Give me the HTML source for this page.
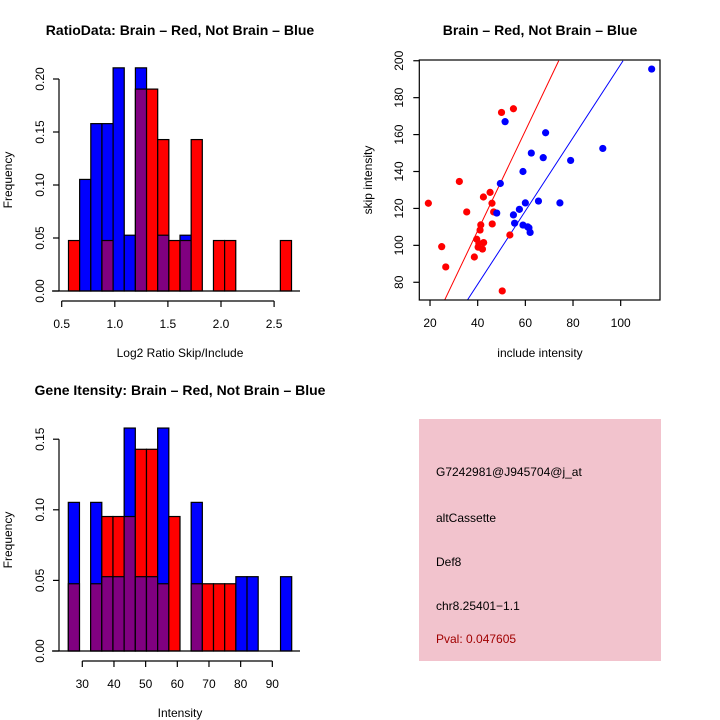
<!DOCTYPE html>
<html><head><meta charset="utf-8"><style>
body{margin:0;background:#fff;}
svg{display:block;font-family:"Liberation Sans",sans-serif;}
</style></head><body>
<svg id="c" width="720" height="720" xmlns="http://www.w3.org/2000/svg"></svg>
<script>
// ---- data ----
const ratioRedCounts = [1,0,0,1,0,0,4,4,3,1,1,3,0,1,1,0,0,0,0,1];
const ratioBlueCounts = [0,2,3,3,4,1,4,0,1,0,1,0,0,0,0,0,0,0,0,0];
const intRedCounts = [1,0,1,2,2,2,3,3,1,2,0,1,1,1,1,0,0,0,0,0];
const intBlueCounts = [2,0,2,1,1,3,1,1,3,0,0,2,0,0,0,1,1,0,0,1];
const redTotal = 21, blueTotal = 19;
const ratioXTicks = [0.5,1.0,1.5,2.0,2.5];
const ratioXLabels = ["0.5","1.0","1.5","2.0","2.5"];
const ratioYTicks = [0,0.05,0.10,0.15,0.20];
const ratioYLabels = ["0.00","0.05","0.10","0.15","0.20"];
const intXTicks = [30,40,50,60,70,80,90];
const intYTicks = [0,0.05,0.10,0.15];
const intYLabels = ["0.00","0.05","0.10","0.15"];
const redX = [32.3,19.3,35.4,42.4,45.2,46.0,46.7,46.1,41.3,41.0,39.6,40.5,42.5,40.2,42.0,38.6,24.9,26.6,53.5,50.3,50.0,55.0];
const redY = [134.6,122.8,118.1,126.2,128.7,122.8,118.1,111.6,111.1,108.3,103.3,101,101.5,99,98,93.7,99.3,88.3,105.6,75.3,172,174];
const blueX = [48,49.5,51.5,55,55.5,57.5,59,59,60,61,61.5,62,62.5,65.5,67.5,68.5,74.5,79,92.5,113];
const blueY = [117.5,133.5,167,116.5,112,119.5,140,111,123,110,109.5,107,150,124,147.5,161,123,146,152.5,195.5];
const redLine = [26,70,74,200];   // x0,y0,x1,y1 in data units
const blueLine = [35.5,70,101,200];
const scXTicks = [20,40,60,80,100];
const scYTicks = [80,100,120,140,160,180,200];

const svg = document.getElementById('c');
const NS = 'http://www.w3.org/2000/svg';
function el(tag, attrs, parent){const e=document.createElementNS(NS,tag);for(const k in attrs)e.setAttribute(k,attrs[k]);(parent||svg).appendChild(e);return e;}
function txt(s,x,y,attrs,parent){const t=el('text',Object.assign({x:x,y:y,'font-size':12,'text-anchor':'middle',fill:'#000'},attrs||{}),parent);t.textContent=s;return t;}

function histogram(name, top, y0px, perUnit, x0, binW, xScaleA, xScaleB, red, blue, xT, xL, yT, yL, xTitle, title, titleY){
  const g = el('g',{});
  
  
  const sx = v => xScaleA + (v - xScaleB) * perUnitX;
  const perUnitX = xScaleA.u; 
}

function drawHist(name, cfg){
  const g = el('g',{});
  
  
  const sx = v => cfg.px0 + (v - cfg.v0) * cfg.kx;
  const sy = v => cfg.py0 - v * cfg.ky;
  for(let i=0;i<cfg.red.length;i++){
    const a = sx(cfg.start + i*cfg.bw), b = sx(cfg.start + (i+1)*cfg.bw);
    const r = cfg.red[i]/redTotal, bl = cfg.blue[i]/blueTotal;
    const hi = Math.max(r,bl), lo = Math.min(r,bl);
    if(hi>0){
      const c = r>bl ? '#ff0000' : '#0000ff';
      const rect = el('rect',{x:a,y:sy(hi),width:b-a,height:sy(0)-sy(hi),fill:c,stroke:'#000','stroke-width':1.2},g);
      
      
    }
    if(lo>0){
      const rect = el('rect',{x:a,y:sy(lo),width:b-a,height:sy(0)-sy(lo),fill:'#800080',stroke:'#000','stroke-width':1.2},g);
      
      
    }
  }
  el('line',{x1:52,x2:300,y1:sy(0),y2:sy(0),stroke:'#000','stroke-width':1.2},g);
  // x axis
  const xa = el('g',{},g);
  
  
  const ay = cfg.axisY;
  el('line',{x1:sx(cfg.xT[0]),x2:sx(cfg.xT[cfg.xT.length-1]),y1:ay,y2:ay,stroke:'#000','stroke-width':1.2},xa);
  cfg.xT.forEach((v,i)=>{el('line',{x1:sx(v),x2:sx(v),y1:ay,y2:ay+6,stroke:'#000','stroke-width':1.2},xa);txt(cfg.xL[i],sx(v),ay+27,{},xa);});
  // y axis
  const ya = el('g',{},g);
  
  
  el('line',{x1:59,x2:59,y1:sy(cfg.yT[0]),y2:sy(cfg.yT[cfg.yT.length-1]),stroke:'#000','stroke-width':1.2},ya);
  cfg.yT.forEach((v,i)=>{el('line',{x1:53,x2:59,y1:sy(v),y2:sy(v),stroke:'#000','stroke-width':1.2},ya);txt(cfg.yL[i],44,sy(v),{transform:'rotate(-90 44 '+sy(v)+')'},ya);});
  const yt = txt('Frequency',12,cfg.yTitleY,{transform:'rotate(-90 12 '+cfg.yTitleY+')'},g);
  
  
  const xt = txt(cfg.xTitle,180,cfg.xTitleY,{},g);
  
  
  const tt = txt(cfg.title,180,cfg.titleY,{'font-size':14,'font-weight':'bold'},g);
  
  
}

drawHist('ratio-histogram',{px0:61.7,v0:0.5,kx:106.2,py0:291,ky:1060,start:0.564,bw:0.105,
  red:ratioRedCounts,blue:ratioBlueCounts,xT:ratioXTicks,xL:ratioXLabels,yT:ratioYTicks,yL:ratioYLabels,
  axisY:301,xTitle:'Log2 Ratio Skip/Include',xTitleY:357,yTitleY:180,title:'RatioData: Brain \u2013 Red, Not Brain \u2013 Blue',titleY:35});
drawHist('intensity-histogram',{px0:82.3,v0:30,kx:3.167,py0:651,ky:1412,start:25.58,bw:3.527,
  red:intRedCounts,blue:intBlueCounts,xT:intXTicks,xL:intXTicks.map(String),yT:intYTicks,yL:intYLabels,
  axisY:661,xTitle:'Intensity',xTitleY:717,yTitleY:540,title:'Gene Itensity: Brain \u2013 Red, Not Brain \u2013 Blue',titleY:395});

// scatter
(function(){
  const g = el('g',{});
  
  
  const L=419.3,R=660,T=60,B=300, xmin=15.5,xmax=116.5,ymin=70.4,ymax=200.4;
  const sx=v=>L+(v-xmin)/(xmax-xmin)*(R-L), sy=v=>B-(v-ymin)/(ymax-ymin)*(B-T);
  el('clipPath',{id:'clip'},g).appendChild(Object.assign(document.createElementNS(NS,'rect'),{}));
  const cr = g.querySelector('clipPath');
  cr.firstChild.setAttribute('x',L);cr.firstChild.setAttribute('y',T);cr.firstChild.setAttribute('width',R-L);cr.firstChild.setAttribute('height',B-T);
  const rl = el('line',{x1:sx(redLine[0]),y1:sy(redLine[1]),x2:sx(redLine[2]),y2:sy(redLine[3]),stroke:'#ff0000','stroke-width':1,'clip-path':'url(#clip)'},g);
  
  
  const bl = el('line',{x1:sx(blueLine[0]),y1:sy(blueLine[1]),x2:sx(blueLine[2]),y2:sy(blueLine[3]),stroke:'#0000ff','stroke-width':1,'clip-path':'url(#clip)'},g);
  
  
  redX.forEach((x,i)=>{const c=el('circle',{cx:sx(x),cy:sy(redY[i]),r:3.6,fill:'#ff0000'},g);
    
    });
  blueX.forEach((x,i)=>{const c=el('circle',{cx:sx(x),cy:sy(blueY[i]),r:3.6,fill:'#0000ff'},g);
    
    });
  el('rect',{x:L,y:T,width:R-L,height:B-T,fill:'none',stroke:'#000','stroke-width':1.2},g);
  scXTicks.forEach(v=>{el('line',{x1:sx(v),x2:sx(v),y1:B,y2:B+6,stroke:'#000','stroke-width':1.2},g);const t=txt(String(v),sx(v),327,{},g);
    
    });
  scYTicks.forEach(v=>{el('line',{x1:L-6,x2:L,y1:sy(v),y2:sy(v),stroke:'#000','stroke-width':1.2},g);const t=txt(String(v),403,sy(v),{transform:'rotate(-90 403 '+sy(v)+')'},g);
    
    });
  const xt=txt('include intensity',540,357,{},g);
  
  
  const yt=txt('skip intensity',372,180,{transform:'rotate(-90 372 180)'},g);
  
  
  const tt=txt('Brain \u2013 Red, Not Brain \u2013 Blue',540,35,{'font-size':14,'font-weight':'bold'},g);
  
  
})();

// info box
(function(){
  const g = el('g',{});
  
  
  el('rect',{x:419,y:419,width:242,height:242,fill:'#f2c3cd'},g);
  const lines=[['G7242981@J945704@j_at',476,'#000','probe-id'],['altCassette',522,'#000','event-type'],['Def8',566,'#000','gene-name'],['chr8.25401\u22121.1',610,'#000','location'],['Pval: 0.047605',643,'#a00000','p-value']];
  lines.forEach(l=>{const t=txt(l[0],436,l[1],{'text-anchor':'start',fill:l[2]},g);
    
    });
})();
</script>
</body></html>
